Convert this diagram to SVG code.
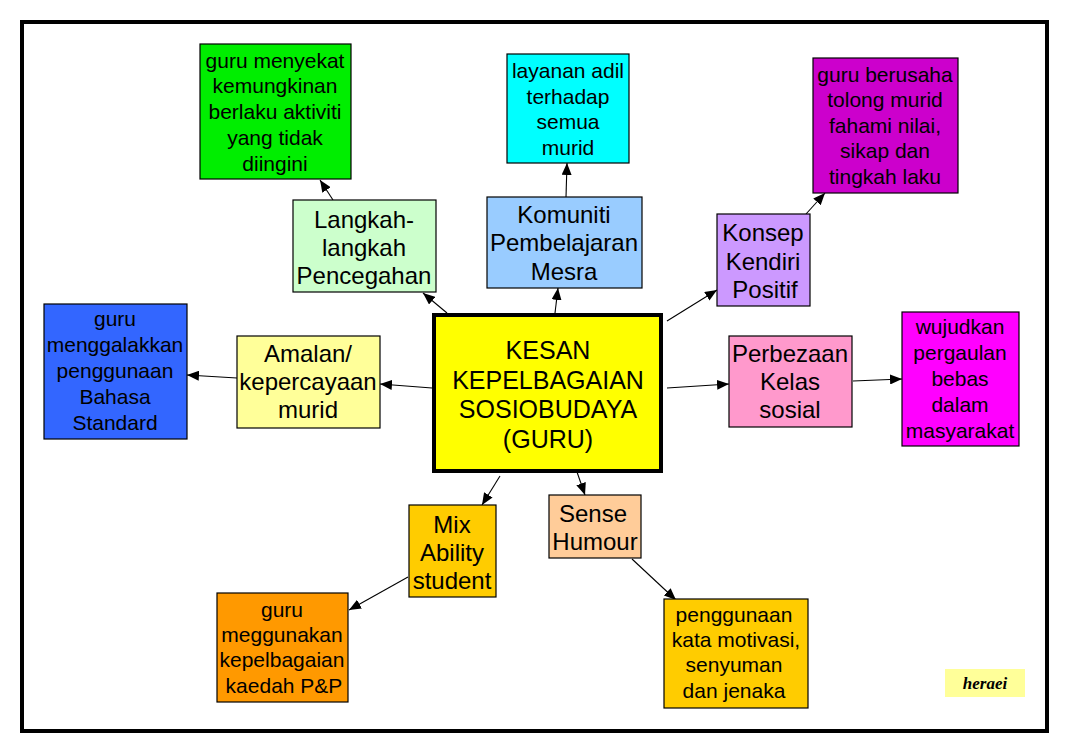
<svg xmlns="http://www.w3.org/2000/svg" width="1069" height="753" viewBox="0 0 1069 753">
<style>
.box{stroke:#000;stroke-width:1.2}
.t{font-family:"Liberation Sans",Arial,sans-serif;fill:#000;text-anchor:middle}
.s{font-size:21px}
.m{font-size:24px}
.l{font-size:25px}
.c{stroke:#000;stroke-width:1.1;fill:none;marker-end:url(#ah)}
</style>
<defs>
<marker id="ah" viewBox="0 0 12 10" refX="12" refY="5" markerWidth="12" markerHeight="10" markerUnits="userSpaceOnUse" orient="auto">
<path d="M0,0 L12,5 L0,10 Z" fill="#000"/>
</marker>
</defs>
<rect width="1069" height="753" fill="#fff"/>
<rect x="22" y="22" width="1025" height="709" fill="none" stroke="#000" stroke-width="4"/>

<g id="connectors">
<line class="c" x1="447" y1="313" x2="423" y2="293"/>
<line class="c" x1="333" y1="200" x2="320" y2="180"/>
<line class="c" x1="555" y1="313" x2="558" y2="288"/>
<line class="c" x1="566" y1="197" x2="567" y2="163"/>
<line class="c" x1="667" y1="321" x2="717" y2="290"/>
<line class="c" x1="806" y1="214" x2="825" y2="193"/>
<line class="c" x1="432" y1="388" x2="380" y2="384"/>
<line class="c" x1="237" y1="378" x2="187" y2="375"/>
<line class="c" x1="667" y1="388" x2="729" y2="384"/>
<line class="c" x1="853" y1="381" x2="902" y2="379"/>
<line class="c" x1="500" y1="476" x2="482" y2="505"/>
<line class="c" x1="408" y1="577" x2="349" y2="610"/>
<line class="c" x1="577" y1="472" x2="585" y2="495"/>
<line class="c" x1="632" y1="559" x2="676" y2="600"/>
</g>

<g id="center">
<rect x="434" y="315" width="227" height="156" fill="#FFFF00" stroke="#000" stroke-width="4"/>
<text class="t l" x="548" y="359">KESAN</text>
<text class="t l" x="548" y="389">KEPELBAGAIAN</text>
<text class="t l" x="548" y="418">SOSIOBUDAYA</text>
<text class="t l" x="548" y="448">(GURU)</text>
</g>

<g id="green">
<rect class="box" x="200" y="44" width="151" height="135" fill="#00EE00"/>
<text class="t s" x="275" y="68">guru menyekat</text>
<text class="t s" x="275" y="93">kemungkinan</text>
<text class="t s" x="275" y="119">berlaku aktiviti</text>
<text class="t s" x="275" y="145">yang tidak</text>
<text class="t s" x="275" y="171">diingini</text>
</g>

<g id="langkah">
<rect class="box" x="293" y="200" width="143" height="92" fill="#CCFFCC"/>
<text class="t m" x="364" y="228">Langkah-</text>
<text class="t m" x="364" y="256">langkah</text>
<text class="t m" x="364" y="284">Pencegahan</text>
</g>

<g id="cyan">
<rect class="box" x="507" y="54" width="122" height="109" fill="#00FFFF"/>
<text class="t s" x="568" y="78">layanan adil</text>
<text class="t s" x="568" y="104">terhadap</text>
<text class="t s" x="568" y="129">semua</text>
<text class="t s" x="568" y="155">murid</text>
</g>

<g id="komuniti">
<rect class="box" x="487" y="197" width="155" height="91" fill="#99CCFF"/>
<text class="t m" x="564" y="223">Komuniti</text>
<text class="t m" x="564" y="251">Pembelajaran</text>
<text class="t m" x="564" y="280">Mesra</text>
</g>

<g id="purple">
<rect class="box" x="813" y="58" width="145" height="135" fill="#CC00CC"/>
<text class="t s" x="885" y="82">guru berusaha</text>
<text class="t s" x="885" y="107">tolong murid</text>
<text class="t s" x="885" y="133">fahami nilai,</text>
<text class="t s" x="885" y="158">sikap dan</text>
<text class="t s" x="885" y="184">tingkah laku</text>
</g>

<g id="konsep">
<rect class="box" x="717" y="214" width="93" height="92" fill="#CC99FF"/>
<text class="t m" x="763" y="241">Konsep</text>
<text class="t m" x="763" y="270">Kendiri</text>
<text class="t m" x="765" y="298">Positif</text>
</g>

<g id="blue">
<rect class="box" x="44" y="304" width="143" height="135" fill="#3366FF"/>
<text class="t s" x="115" y="326">guru</text>
<text class="t s" x="115" y="352">menggalakkan</text>
<text class="t s" x="115" y="378">penggunaan</text>
<text class="t s" x="115" y="404">Bahasa</text>
<text class="t s" x="115" y="430">Standard</text>
</g>

<g id="amalan">
<rect class="box" x="237" y="336" width="143" height="92" fill="#FFFF99"/>
<text class="t m" x="308" y="362">Amalan/</text>
<text class="t m" x="308" y="390">kepercayaan</text>
<text class="t m" x="308" y="418">murid</text>
</g>

<g id="perbezaan">
<rect class="box" x="729" y="336" width="123" height="91" fill="#FF99CC"/>
<text class="t m" x="790" y="362">Perbezaan</text>
<text class="t m" x="790" y="390">Kelas</text>
<text class="t m" x="790" y="418">sosial</text>
</g>

<g id="magenta">
<rect class="box" x="902" y="312" width="117" height="134" fill="#FF00FF"/>
<text class="t s" x="960" y="334">wujudkan</text>
<text class="t s" x="960" y="360">pergaulan</text>
<text class="t s" x="960" y="386">bebas</text>
<text class="t s" x="960" y="412">dalam</text>
<text class="t s" x="960" y="438">masyarakat</text>
</g>

<g id="mix">
<rect class="box" x="409" y="505" width="87" height="92" fill="#FFCC00"/>
<text class="t m" x="452" y="533">Mix</text>
<text class="t m" x="452" y="561">Ability</text>
<text class="t m" x="452" y="589">student</text>
</g>

<g id="orange">
<rect class="box" x="217" y="593" width="131" height="109" fill="#FF9900"/>
<text class="t s" x="282" y="617">guru</text>
<text class="t s" x="282" y="642">meggunakan</text>
<text class="t s" x="282" y="667">kepelbagaian</text>
<text class="t s" x="284" y="693">kaedah P&amp;P</text>
</g>

<g id="sense">
<rect class="box" x="549" y="495" width="92" height="63" fill="#FFCC99"/>
<text class="t m" x="593" y="522">Sense</text>
<text class="t m" x="595" y="550">Humour</text>
</g>

<g id="penggunaan">
<rect class="box" x="664" y="599" width="144" height="109" fill="#FFCC00"/>
<text class="t s" x="734" y="622">penggunaan</text>
<text class="t s" x="736" y="647">kata motivasi,</text>
<text class="t s" x="734" y="672">senyuman</text>
<text class="t s" x="734" y="698">dan jenaka</text>
</g>

<g id="heraei">
<rect x="945" y="669" width="80" height="28" fill="#FFFF99"/>
<text x="985" y="689" font-family="'Liberation Serif',serif" font-style="italic" font-weight="bold" font-size="17" text-anchor="middle" fill="#000">heraei</text>
</g>
</svg>
